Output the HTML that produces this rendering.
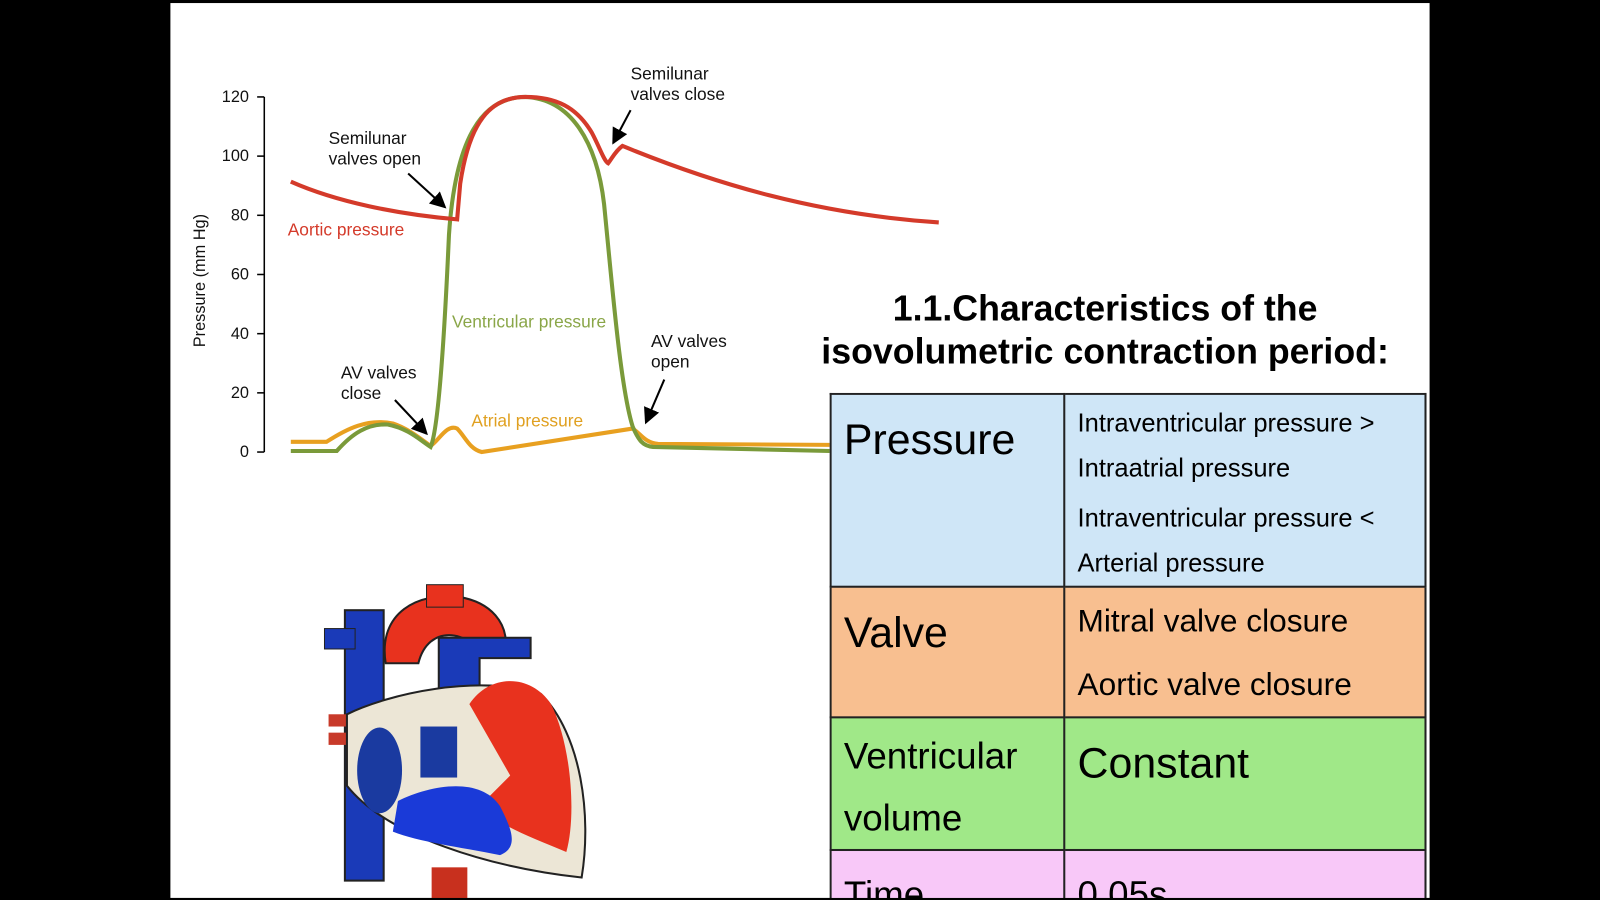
<!DOCTYPE html>
<html><head><meta charset="utf-8"><style>
html,body{margin:0;padding:0;background:#000;width:1600px;height:900px;overflow:hidden}
#w{position:absolute;left:0;top:0;width:1568px;height:882px;transform:scale(1.0204);transform-origin:0 0;font-family:"Liberation Sans",sans-serif;overflow:hidden}
#slide{position:absolute;left:167px;top:3px;width:1234px;height:877px;background:#fff}
.t{position:absolute;color:#000}
#tw{position:absolute;left:813px;top:385px;width:587px;height:495px;overflow:hidden}
table{width:585px;border-collapse:collapse;font-family:"Liberation Sans",sans-serif}
td{border:2px solid #222;vertical-align:top;padding:0 12px;box-sizing:border-box}
</style></head><body><div id="w">
<div id="slide"></div>
<svg width="1568" height="882" style="position:absolute;left:0;top:0" font-family="Liberation Sans" >
<defs><marker id="a" markerWidth="8" markerHeight="8" refX="7" refY="4" orient="auto"><path d="M0,0 L8,4 L0,8z" fill="#000"/></marker></defs>
<g stroke="#000" stroke-width="1.5">
<line x1="259" y1="95" x2="259" y2="443"/>
<line x1="252" y1="95" x2="259" y2="95"/><line x1="252" y1="153" x2="259" y2="153"/><line x1="252" y1="211" x2="259" y2="211"/><line x1="252" y1="269" x2="259" y2="269"/><line x1="252" y1="327" x2="259" y2="327"/><line x1="252" y1="385" x2="259" y2="385"/><line x1="252" y1="443" x2="259" y2="443"/>
</g>
<g font-size="16" text-anchor="end" fill="#111">
<text x="244" y="100">120</text><text x="244" y="158">100</text><text x="244" y="216">80</text><text x="244" y="274">60</text><text x="244" y="332">40</text><text x="244" y="390">20</text><text x="244" y="448">0</text></g>
<text transform="translate(201,275) rotate(-90)" text-anchor="middle" font-size="16" fill="#111">Pressure (mm Hg)</text>
<path d="M285,433 L320,433 C340,420 360,410 385,415 C400,420 412,430 422,437 C430,432 438,415 448,420 C456,428 460,440 472,443 L620,420 C628,425 632,434 645,435 L813,436" fill="none" stroke="#e8a020" stroke-width="4"/>
<path d="M285,442 L330,442 C345,425 360,415 380,416 C400,420 410,430 422,438 C430,420 436,320 440,230 C446,140 470,95 515,95 C560,97 585,140 592,200 C600,280 608,380 620,418 C626,432 630,437 640,438 L813,442" fill="none" stroke="#7a9a3a" stroke-width="4"/>
<path d="M285,178 C330,198 390,210 448,215 L451,180 C460,120 480,95 515,95 C545,95 565,105 580,130 C588,145 592,158 596,160 C600,155 603,148 610,143 C700,180 800,210 920,218" fill="none" stroke="#d43a2a" stroke-width="4"/>
<g font-size="17" fill="#111">
<text x="618" y="78">Semilunar</text><text x="618" y="98">valves close</text>
<text x="322" y="141">Semilunar</text><text x="322" y="161">valves open</text>
<text x="638" y="340">AV valves</text><text x="638" y="360">open</text>
<text x="334" y="371">AV valves</text><text x="334" y="391">close</text></g>
<text x="282" y="231" font-size="17" fill="#d43a2a">Aortic pressure</text>
<text x="443" y="321" font-size="17" fill="#8aa648">Ventricular pressure</text>
<text x="462" y="418" font-size="17" fill="#e0a020">Atrial pressure</text>
<g stroke="#000" stroke-width="2" marker-end="url(#a)">
<line x1="618" y1="108" x2="601" y2="140"/><line x1="400" y1="170" x2="436" y2="203"/>
<line x1="651" y1="372" x2="633" y2="414"/><line x1="387" y1="392" x2="418" y2="425"/></g>
<g>
<rect x="338" y="598" width="38" height="265" fill="#1a3ab8" stroke="#222" stroke-width="2"/>
<rect x="318" y="616" width="30" height="20" fill="#1a3ab8" stroke="#222"/>
<rect x="423" y="850" width="35" height="32" fill="#c8301e"/>
<rect x="322" y="700" width="210" height="12" fill="#c83a2a"/><rect x="322" y="718" width="210" height="12" fill="#c83a2a"/>
<path d="M378,650 C370,600 410,580 450,585 C480,590 500,610 495,640 L470,640 C460,620 420,610 410,650 Z" fill="#e8321e" stroke="#222" stroke-width="2"/>
<rect x="418" y="573" width="36" height="22" fill="#e8321e" stroke="#222"/>
<path d="M430,625 L520,625 L520,645 L470,645 L470,700 L430,700 Z" fill="#1a3ab8" stroke="#222" stroke-width="2"/>
<path d="M340,700 C380,680 470,660 530,680 C570,720 580,800 570,860 C480,850 380,820 340,770 Z" fill="#ece6d6" stroke="#222" stroke-width="2"/>
<path d="M460,690 C480,660 520,660 540,690 C560,730 565,800 555,835 C520,820 490,810 470,790 L500,760 Z" fill="#e8321e"/>
<ellipse cx="372" cy="755" rx="22" ry="42" fill="#1a3aa0"/>
<rect x="412" y="712" width="36" height="50" fill="#1a3aa0"/>
<path d="M390,785 C420,770 470,760 490,790 C500,810 510,830 490,838 C450,830 410,825 385,815 Z" fill="#1a3ad8"/>
</g>
</svg>
<div class="t" style="left:783px;top:282px;width:600px;text-align:center;font-size:35px;font-weight:bold;line-height:42px">1.1.Characteristics of the isovolumetric contraction period:</div>
<div id="tw"><table>
<tr style="background:#cfe6f7"><td style="width:229px;height:185px;font-size:42px;padding-top:20px">Pressure</td><td style="height:185px;font-size:25px;line-height:44px;padding-top:6px">Intraventricular pressure &gt;<br>Intraatrial pressure<div style="height:5px"></div>Intraventricular pressure &lt;<br>Arterial pressure</td></tr>
<tr style="background:#f8bf90"><td style="height:124px;font-size:42px;padding-top:20px">Valve</td><td style="height:124px;font-size:31px;line-height:62px;padding-top:2px">Mitral valve closure<br>Aortic valve closure</td></tr>
<tr style="background:#a0e888"><td style="height:129px;font-size:36px;line-height:61px;padding-top:6px">Ventricular<br>volume</td><td style="height:129px;font-size:42px;padding-top:20px">Constant</td></tr>
<tr style="background:#f8c8f8"><td style="height:80px;font-size:36px;padding-top:22px">Time</td><td style="height:80px;font-size:36px;padding-top:22px">0.05s</td></tr>
</table></div>
<div style="position:absolute;left:0;top:880px;width:1568px;height:10px;background:#000"></div>
</div></body></html>
